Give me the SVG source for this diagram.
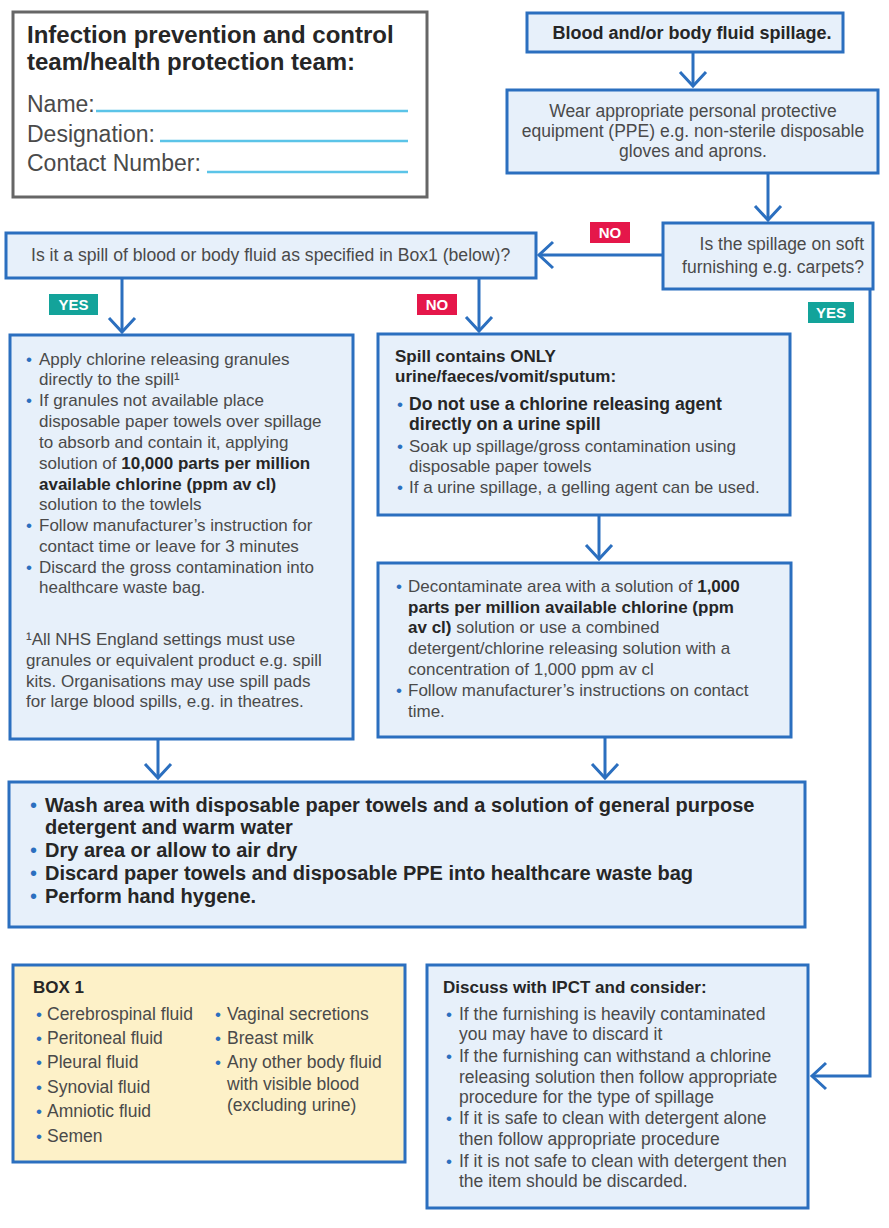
<svg xmlns="http://www.w3.org/2000/svg" width="889" height="1228" viewBox="0 0 889 1228">
<style>
.box{fill:#E7F0FA;stroke:#2B6FBF;stroke-width:3}
.yel{fill:#FDF1C8;stroke:#2B6FBF;stroke-width:3}
.contact{fill:#FFFFFF;stroke:#666666;stroke-width:3}
.uline{stroke:#5BC4E8;stroke-width:2.5}
.t{font-family:"Liberation Sans",Arial,sans-serif;font-size:17px;fill:#4A4A4A}
.m{font-size:17.5px}
.b{font-weight:bold;fill:#262626}
.bu{fill:#2B6FBF}
.c{text-anchor:middle}
.e{text-anchor:end}
.lbl{font-family:"Liberation Sans",Arial,sans-serif;font-size:15px;font-weight:bold;fill:#FFFFFF;text-anchor:middle}
.no{fill:#E5174A}
.yes{fill:#13A39A}
.conn{fill:none;stroke:#2B6FBF;stroke-width:3}
.w{font-size:20px}
</style>
<defs>
<marker id="chev" markerUnits="userSpaceOnUse" viewBox="-17 -16 20 32" markerWidth="20" markerHeight="32" refX="0" refY="0" orient="auto">
<path d="M-14,-13 L0,0 L-14,13" fill="none" stroke="#2B6FBF" stroke-width="3"/>
</marker>
</defs>

<g id="contact-box">
<rect class="contact" x="13" y="12" width="414" height="185"/>
<text class="t b" x="27" y="43" style="font-size:24px">Infection prevention and control</text>
<text class="t b" x="27" y="70" style="font-size:24px">team/health protection team:</text>
<text class="t" x="27" y="112" style="font-size:23px">Name:</text>
<text class="t" x="27" y="142" style="font-size:23px">Designation:</text>
<text class="t" x="27" y="171" style="font-size:23px">Contact Number:</text>
<line class="uline" x1="96" y1="111" x2="408" y2="111"/>
<line class="uline" x1="160" y1="141" x2="408" y2="141"/>
<line class="uline" x1="207" y1="172" x2="408" y2="172"/>
</g>

<g id="spillage">
<rect class="box" x="527" y="13" width="316" height="39"/>
<text class="t b c" x="692" y="39" style="font-size:18px">Blood and/or body fluid spillage.</text>
</g>

<g id="ppe">
<rect class="box" x="507" y="90" width="371" height="83"/>
<text class="t c m" x="693" y="117">Wear appropriate personal protective</text>
<text class="t c m" x="693" y="137">equipment (PPE) e.g. non-sterile disposable</text>
<text class="t c m" x="693" y="157">gloves and aprons.</text>
</g>

<g id="soft-furnishing">
<rect class="box" x="663" y="223" width="210" height="66"/>
<text class="t e m" x="864" y="250">Is the spillage on soft</text>
<text class="t e m" x="864" y="273">furnishing e.g. carpets?</text>
</g>

<g id="box1-question">
<rect class="box" x="6" y="233" width="530" height="45"/>
<text class="t" x="31" y="261" style="font-size:17.6px">Is it a spill of blood or body fluid as specified in Box1 (below)?</text>
</g>

<g id="blood-spill">
<rect class="box" x="10" y="335" width="343" height="404"/>
<text class="t bu" x="26" y="365">•</text>
<text class="t" x="39" y="365">Apply chlorine releasing granules</text>
<text class="t" x="39" y="385">directly to the spill¹</text>
<text class="t bu" x="26" y="406">•</text>
<text class="t" x="39" y="406">If granules not available place</text>
<text class="t" x="39" y="427">disposable paper towels over spillage</text>
<text class="t" x="39" y="448">to absorb and contain it, applying</text>
<text class="t" x="39" y="469">solution of <tspan class="b">10,000 parts per million</tspan></text>
<text class="t b" x="39" y="490">available chlorine (ppm av cl)</text>
<text class="t" x="39" y="510">solution to the towlels</text>
<text class="t bu" x="26" y="531">•</text>
<text class="t" x="39" y="531">Follow manufacturer’s instruction for</text>
<text class="t" x="39" y="552">contact time or leave for 3 minutes</text>
<text class="t bu" x="26" y="573">•</text>
<text class="t" x="39" y="573">Discard the gross contamination into</text>
<text class="t" x="39" y="593">healthcare waste bag.</text>
<text class="t" x="26" y="645">¹All NHS England settings must use</text>
<text class="t" x="26" y="666">granules or equivalent product e.g. spill</text>
<text class="t" x="26" y="687">kits. Organisations may use spill pads</text>
<text class="t" x="26" y="707">for large blood spills, e.g. in theatres.</text>
</g>

<g id="urine-spill">
<rect class="box" x="378" y="334" width="412" height="181"/>
<text class="t b" x="395" y="362">Spill contains ONLY</text>
<text class="t b" x="395" y="382">urine/faeces/vomit/sputum:</text>
<text class="t bu" x="397" y="410">•</text>
<text class="t b" x="409" y="410" style="font-size:17.6px">Do not use a chlorine releasing agent</text>
<text class="t b" x="409" y="430" style="font-size:17.6px">directly on a urine spill</text>
<text class="t bu" x="397" y="452">•</text>
<text class="t" x="409" y="452">Soak up spillage/gross contamination using</text>
<text class="t" x="409" y="472">disposable paper towels</text>
<text class="t bu" x="397" y="493">•</text>
<text class="t" x="409" y="493">If a urine spillage, a gelling agent can be used.</text>
</g>

<g id="decontaminate">
<rect class="box" x="378" y="563" width="413" height="174"/>
<text class="t bu" x="396" y="592">•</text>
<text class="t" x="408" y="592">Decontaminate area with a solution of <tspan class="b">1,000</tspan></text>
<text class="t b" x="408" y="613">parts per million available chlorine (ppm</text>
<text class="t" x="408" y="633"><tspan class="b">av cl)</tspan> solution or use a combined</text>
<text class="t" x="408" y="654">detergent/chlorine releasing solution with a</text>
<text class="t" x="408" y="675">concentration of 1,000 ppm av cl</text>
<text class="t bu" x="396" y="696">•</text>
<text class="t" x="408" y="696">Follow manufacturer’s instructions on contact</text>
<text class="t" x="408" y="717">time.</text>
</g>

<g id="wash">
<rect class="box" x="9" y="782" width="796" height="145"/>
<text class="t bu w" x="30" y="812">•</text>
<text class="t b w" x="45" y="812">Wash area with disposable paper towels and a solution of general purpose</text>
<text class="t b w" x="45" y="834">detergent and warm water</text>
<text class="t bu w" x="30" y="857">•</text>
<text class="t b w" x="45" y="857">Dry area or allow to air dry</text>
<text class="t bu w" x="30" y="880">•</text>
<text class="t b w" x="45" y="880">Discard paper towels and disposable PPE into healthcare waste bag</text>
<text class="t bu w" x="30" y="903">•</text>
<text class="t b w" x="45" y="903">Perform hand hygene.</text>
</g>

<g id="box1">
<rect class="yel" x="13" y="965" width="392" height="197"/>
<text class="t b" x="33" y="993">BOX 1</text>
<text class="t bu" x="36" y="1020">•</text><text class="t m" x="47" y="1020">Cerebrospinal fluid</text>
<text class="t bu" x="36" y="1044">•</text><text class="t m" x="47" y="1044">Peritoneal fluid</text>
<text class="t bu" x="36" y="1068">•</text><text class="t m" x="47" y="1068">Pleural fluid</text>
<text class="t bu" x="36" y="1093">•</text><text class="t m" x="47" y="1093">Synovial fluid</text>
<text class="t bu" x="36" y="1117">•</text><text class="t m" x="47" y="1117">Amniotic fluid</text>
<text class="t bu" x="36" y="1142">•</text><text class="t m" x="47" y="1142">Semen</text>
<text class="t bu" x="215" y="1020">•</text><text class="t m" x="227" y="1020">Vaginal secretions</text>
<text class="t bu" x="215" y="1044">•</text><text class="t m" x="227" y="1044">Breast milk</text>
<text class="t bu" x="215" y="1068">•</text><text class="t m" x="227" y="1068">Any other body fluid</text>
<text class="t m" x="227" y="1090">with visible blood</text>
<text class="t m" x="227" y="1111">(excluding urine)</text>
</g>

<g id="discuss">
<rect class="box" x="427" y="965" width="381" height="243"/>
<text class="t b" x="443" y="993">Discuss with IPCT and consider:</text>
<text class="t bu" x="446" y="1020">•</text><text class="t m" x="459" y="1020">If the furnishing is heavily contaminated</text>
<text class="t m" x="459" y="1040">you may have to discard it</text>
<text class="t bu" x="446" y="1062">•</text><text class="t m" x="459" y="1062">If the furnishing can withstand a chlorine</text>
<text class="t m" x="459" y="1083">releasing solution then follow appropriate</text>
<text class="t m" x="459" y="1103">procedure for the type of spillage</text>
<text class="t bu" x="446" y="1124">•</text><text class="t m" x="459" y="1124">If it is safe to clean with detergent alone</text>
<text class="t m" x="459" y="1145">then follow appropriate procedure</text>
<text class="t bu" x="446" y="1167">•</text><text class="t m" x="459" y="1167">If it is not safe to clean with detergent then</text>
<text class="t m" x="459" y="1187">the item should be discarded.</text>
</g>

<g id="connectors">
<path class="conn" d="M693,52 V86" marker-end="url(#chev)"/>
<path class="conn" d="M768,173 V220" marker-end="url(#chev)"/>
<path class="conn" d="M663,255 H539" marker-end="url(#chev)"/>
<path class="conn" d="M122,278 V332" marker-end="url(#chev)"/>
<path class="conn" d="M479,278 V331" marker-end="url(#chev)"/>
<path class="conn" d="M599,515 V559" marker-end="url(#chev)"/>
<path class="conn" d="M158,739 V778" marker-end="url(#chev)"/>
<path class="conn" d="M605,737 V778" marker-end="url(#chev)"/>
<path class="conn" d="M870,289 V1076 H812" marker-end="url(#chev)"/>
<rect class="no" x="590" y="222" width="40" height="21"/>
<text class="lbl" x="610" y="238">NO</text>
<rect class="yes" x="49" y="294" width="49" height="21"/>
<text class="lbl" x="73.5" y="310">YES</text>
<rect class="no" x="417" y="294" width="40" height="21"/>
<text class="lbl" x="437" y="310">NO</text>
<rect class="yes" x="808" y="302" width="46" height="21"/>
<text class="lbl" x="831" y="318">YES</text>
</g>
</svg>
